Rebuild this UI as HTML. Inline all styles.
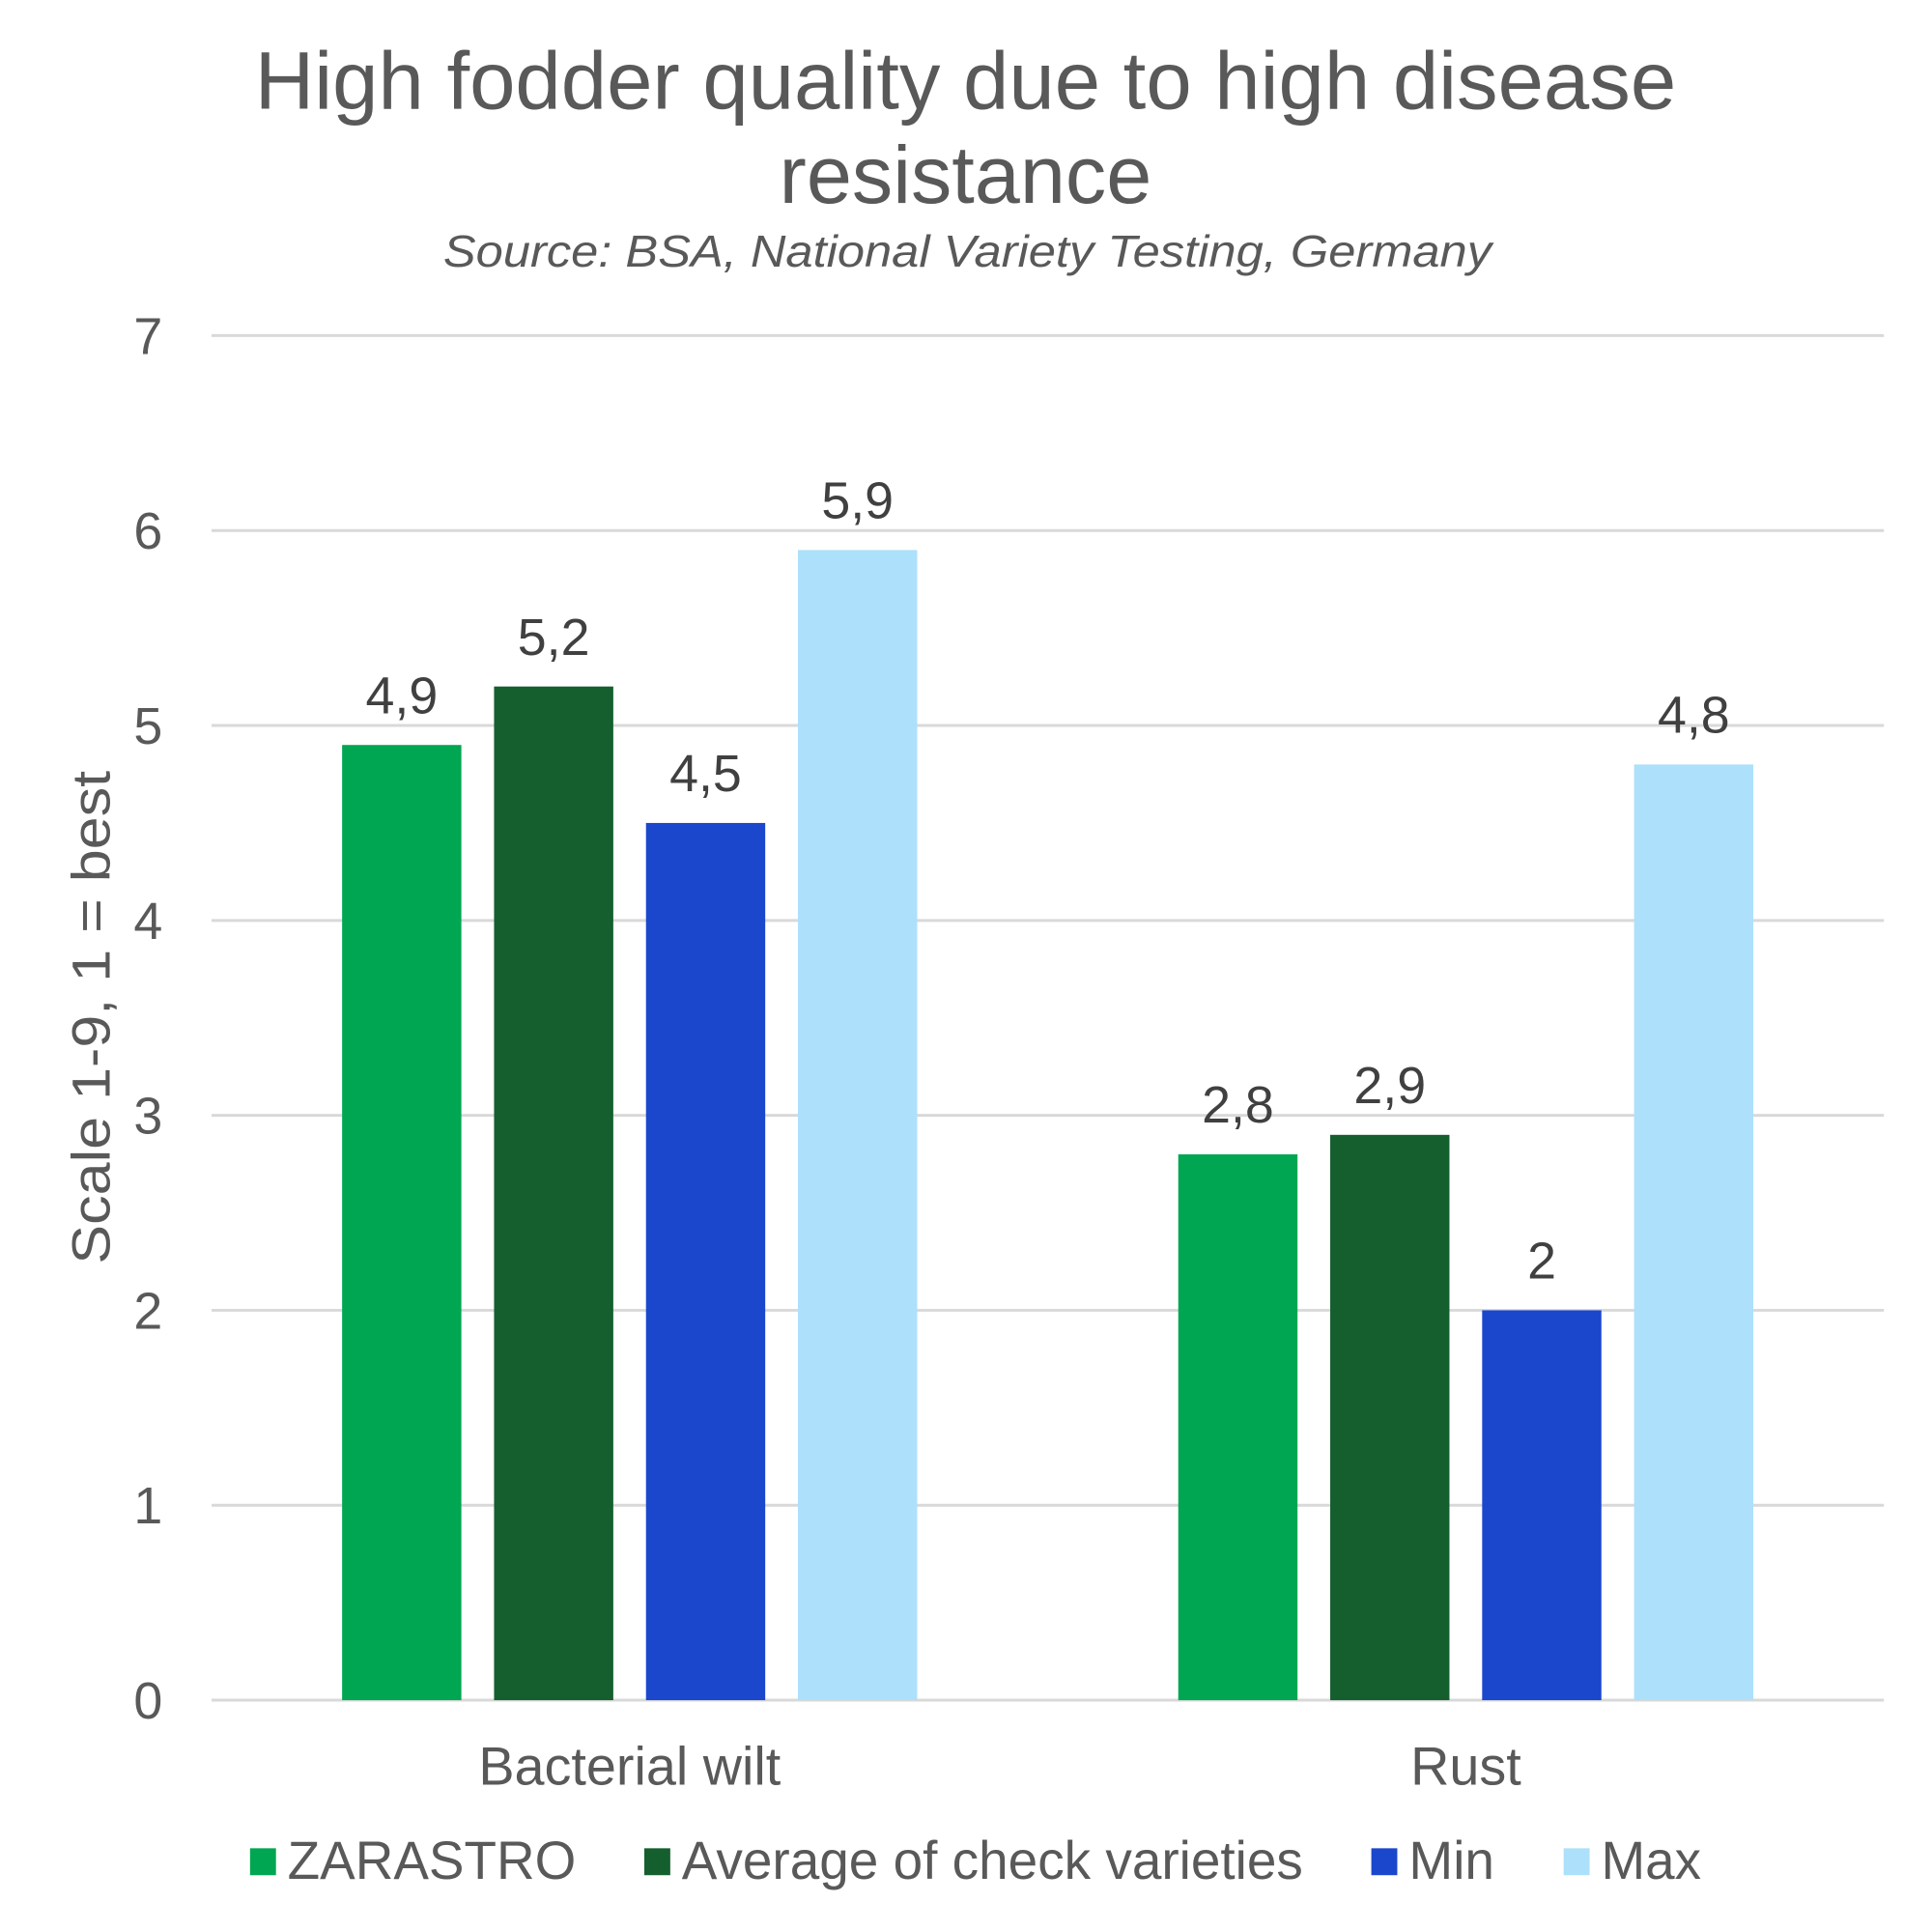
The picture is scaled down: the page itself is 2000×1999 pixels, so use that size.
<!DOCTYPE html>
<html><head><meta charset="utf-8"><style>
html,body{margin:0;padding:0;background:#fff;width:2000px;height:1999px;overflow:hidden}
svg text{font-family:"Liberation Sans",Arial,sans-serif}
</style></head><body>
<svg id="chart" xmlns="http://www.w3.org/2000/svg" width="2000" height="1999" viewBox="0 0 2000 1999">
<rect width="2000" height="1999" fill="#fff"/>
<g transform="scale(0.9955)">
<text x="1004" y="113" text-anchor="middle" font-size="85" fill="#595959" textLength="1478" lengthAdjust="spacingAndGlyphs">High fodder quality due to high disease</text>
<text x="1004" y="211" text-anchor="middle" font-size="85" fill="#595959">resistance</text>
<text x="1006" y="277" text-anchor="middle" font-size="47" font-style="italic" fill="#595959" textLength="1090" lengthAdjust="spacingAndGlyphs">Source: BSA, National Variety Testing, Germany</text>
<g id="grid"></g><g id="bars"></g><g id="labels"></g>
<text transform="translate(114,1058) rotate(-90)" text-anchor="middle" font-size="56" fill="#595959" textLength="513" lengthAdjust="spacingAndGlyphs">Scale 1-9, 1 = best</text>
<g id="legend"></g>
</g>
</svg>
<script>
const categories = ["Bacterial wilt", "Rust"];
const seriesNames = ["ZARASTRO", "Average of check varieties", "Min", "Max"];
const zarastro = [4.9, 2.8];
const average = [5.2, 2.9];
const minVals = [4.5, 2.0];
const maxVals = [5.9, 4.8];
const valueLabels = [["4,9","2,8"],["5,2","2,9"],["4,5","2"],["5,9","4,8"]];
const yTicks = [0,1,2,3,4,5,6,7];

const NS = "http://www.w3.org/2000/svg";
const series = [zarastro, average, minVals, maxVals];
const colors = ["#00A651", "#155F2E", "#1A47CC", "#ADE0FA"];
const plotL = 220, plotR = 1959, y0 = 1768, y7 = 349;
const yScale = v => y0 - (v - 0) / 7 * (y0 - y7);
const catW = (plotR - plotL) / categories.length;
const xCenter = i => plotL + catW * (i + 0.5);
const barW = 124, step = 158;
function mk(tag, attrs, parent, text){const e=document.createElementNS(NS,tag);for(const k in attrs)e.setAttribute(k,attrs[k]);if(text!==undefined)e.textContent=text;parent.appendChild(e);return e;}

const grid = document.getElementById('grid');
yTicks.forEach(t=>{
  const l = mk('line',{x1:plotL,x2:plotR,y1:yScale(t),y2:yScale(t),stroke:'#D9D9D9','stroke-width':3},grid);
  
  
  const tx = mk('text',{x:169,y:yScale(t)+19,'text-anchor':'end','font-size':54,fill:'#595959'},grid,String(t));
  
  
});

const bars = document.getElementById('bars');
const labels = document.getElementById('labels');
categories.forEach((c,ci)=>{
  series.forEach((s,si)=>{
    const x = xCenter(ci) - (step*1.5 + barW/2) + si*step;
    const top = yScale(s[ci]);
    const r = mk('rect',{x:x,y:top,width:barW,height:y0-top,fill:colors[si]},bars);
    
    
    const t = mk('text',{x:x+barW/2,y:top-33,'text-anchor':'middle','font-size':54,fill:'#404040'},labels,valueLabels[si][ci]);
    
    
  });
  const ct = mk('text',{x:xCenter(ci),y:1856,'text-anchor':'middle','font-size':56,fill:'#595959'},labels,c);
  
  
});

const legend = document.getElementById('legend');
const legSq = [260,670,1426,1626];
const legTx = [299,709,1465,1665];
const legW = [300,646,89,104];
seriesNames.forEach((n,i)=>{
  const r = mk('rect',{x:legSq[i],y:1922,width:27,height:28,fill:colors[i]},legend);
  
  
  const t = mk('text',{x:legTx[i],y:1954,'font-size':56,fill:'#595959',textLength:legW[i],lengthAdjust:'spacingAndGlyphs'},legend,n);
  
  
});
</script>
</body></html>
